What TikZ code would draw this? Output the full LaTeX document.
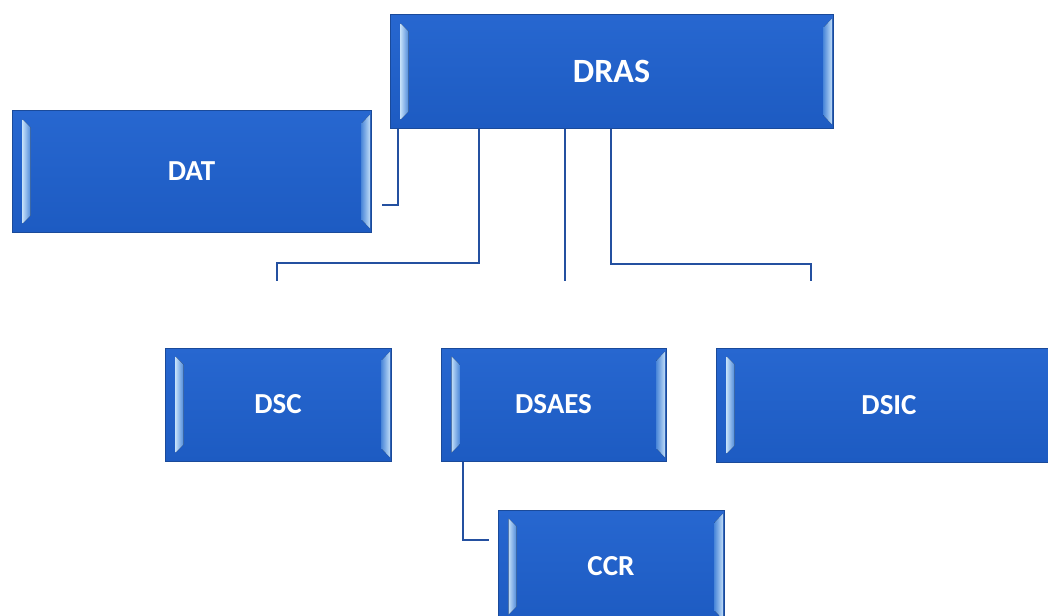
\documentclass[tikz,border=0pt]{standalone}
\usepackage{fontspec}
\setmainfont{Carlito}
\usetikzlibrary{calc}
\definecolor{boxtop}{HTML}{2767D0}
\definecolor{boxbot}{HTML}{1D5BC2}
\definecolor{boxedge}{HTML}{1A4A9A}
\definecolor{bevlight}{HTML}{C0DDF8}
\definecolor{bevmid}{HTML}{4F8ADA}
\definecolor{linkblue}{HTML}{2450A0}
\tikzset{
  org/.style={draw=boxedge, line width=1pt, top color=boxtop, bottom color=boxbot,
    inner sep=0pt, minimum height=113pt, minimum width=226pt, text=white,
    font=\bfseries\fontsize{29}{32}\selectfont},
  link/.style={draw=linkblue, line width=2pt},
  bevl/.style={left color=bevlight, right color=bevmid},
  bevr/.style={left color=bevmid, right color=bevlight},
}
\newcommand\mybevel[1]{%
  \fill[bevl] ($(#1.north west)+(11pt,-9pt)$) -- ($(#1.north west)+(19pt,-17pt)$)
    -- ($(#1.south west)+(19pt,17pt)$) -- ($(#1.south west)+(11pt,9pt)$) -- cycle;
  \fill[bevr] ($(#1.north east)+(-10pt,-13pt)$) -- ($(#1.north east)+(-1.5pt,-4pt)$)
    -- ($(#1.south east)+(-1.5pt,4pt)$) -- ($(#1.south east)+(-10pt,13pt)$) -- cycle;
}
\begin{document}
\begin{tikzpicture}[x=1pt,y=-1pt]
  \clip (0,0) rectangle (1048,615);
  \fill[white] (0,0) rectangle (1048,615);

  \node[org, minimum width=443pt, font=\bfseries\fontsize{34}{37}\selectfont] (dras) at (611.5,71.5) {DRAS};
  \node[org, minimum width=359pt, minimum height=121pt] (dat) at (191.5,171.5) {DAT};
  \node[org] (dsc) at (278,404.5) {DSC};
  \node[org, minimum width=225pt] (dsaes) at (553.5,404.5) {DSAES};
  \node[org, minimum width=346pt, minimum height=114pt] (dsic) at (889,405) {DSIC};
  \node[org] (ccr) at (611,566.5) {CCR};
  \foreach \n in {dras,dat,dsc,dsaes,ccr} {\mybevel{\n}}
  \fill[bevl] ($(dsic.north west)+(11pt,-9pt)$) -- ($(dsic.north west)+(19pt,-17pt)$)
    -- ($(dsic.south west)+(19pt,17pt)$) -- ($(dsic.south west)+(11pt,9pt)$) -- cycle;

  % connectors
  \coordinate (datend) at (382,205);
  \coordinate (dscend) at (277,281);
  \coordinate (dsaesend) at (565,281);
  \coordinate (dsicend) at (811,281);
  \draw[link] (dras.south west -| 398,0) |- (datend);
  \draw[link] (dras.south west -| 479,0) -- (479,263) -| (dscend);
  \draw[link] (dras.south west -| 565,0) -- (dsaesend);
  \draw[link] (dras.south west -| 611,0) -- (611,264) -| (dsicend);
  \coordinate (ccrend) at (489,540);
  \draw[link] (dsaes.south west -| 463,0) |- (ccrend);
\end{tikzpicture}
\end{document}
